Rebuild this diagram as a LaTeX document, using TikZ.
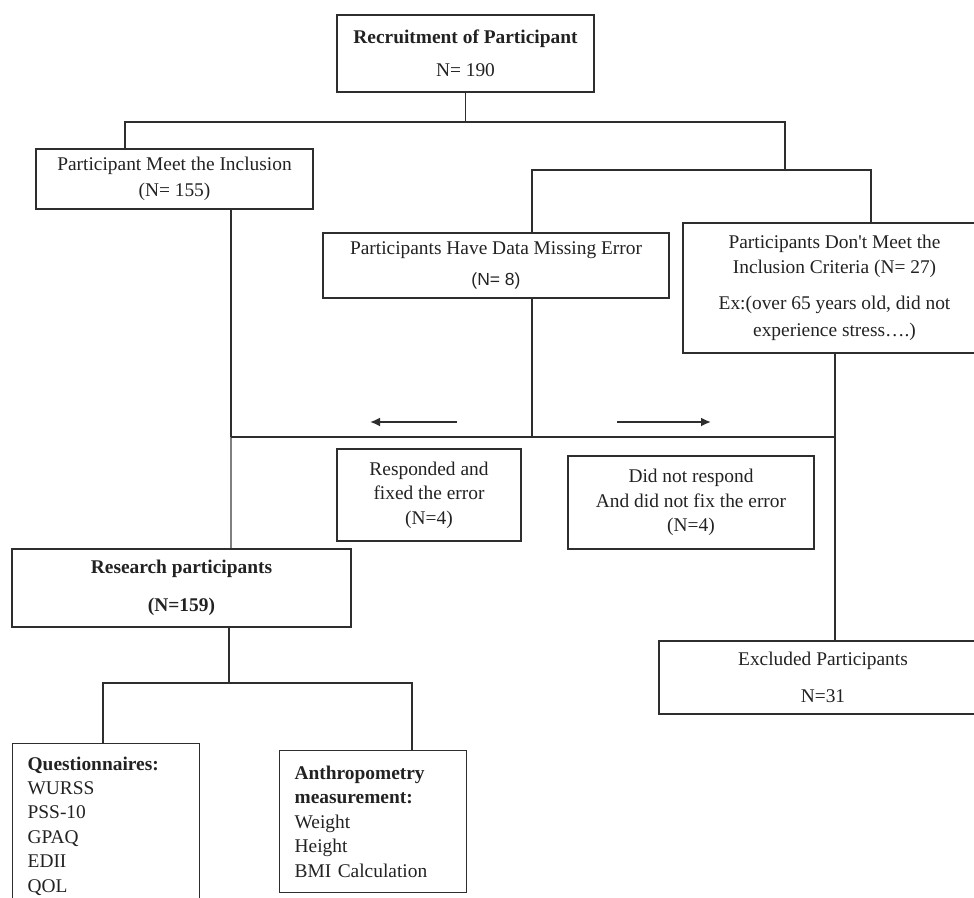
\documentclass[tikz,border=0pt]{standalone}
\usepackage{fontspec}
\setmainfont{Liberation Serif}
\newfontfamily\arialf{Liberation Sans}
\usetikzlibrary{arrows.meta}
\definecolor{linec}{HTML}{2E2E2E}
\definecolor{txtc}{HTML}{222222}
\begin{document}
\begin{tikzpicture}[x=1pt,y=-1pt,
  every node/.style={font=\fontsize{19.4pt}{24.4pt}\selectfont, text=txtc},
  box/.style={draw=linec, line width=1.3pt, align=center, inner sep=0pt},
  conn/.style={draw=linec, line width=1.3pt},
  arr/.style={draw=linec, line width=1.8pt, -{Latex[length=10pt,width=9pt]}}]
\useasboundingbox (0,0) rectangle (974,897);
% boxes
\node[box, minimum width=257pt, minimum height=77pt] (top) at (465.5,53.5) {\textbf{Recruitment of Participant}\\[8.6pt]N= 190};
\node[box, minimum width=277pt, minimum height=60pt] (meet) at (174.5,179) {Participant Meet the Inclusion\\[1.6pt](N= 155)};
\node[box, minimum width=346pt, minimum height=65pt] (miss) at (496,265.5) {Participants Have Data Missing Error\\[6pt]{\arialf\fontsize{17.5pt}{20pt}\selectfont (N= 8)}};
\node[box, minimum width=303pt, minimum height=130pt] (dont) at (834.5,288) {Participants Don\textquotesingle t Meet the\\Inclusion Criteria (N= 27)\\[12pt]Ex:(over 65 years old, did not\\[2.6pt]experience stress….)};
\node[box, minimum width=184pt, minimum height=92pt] (resp) at (429,495) {Responded and\\fixed the error\\(N=4)};
\node[box, minimum width=246pt, minimum height=93pt] (didnot) at (691,502.5) {Did not respond\\And did not fix the error\\(N=4)};
\node[box, minimum width=339pt, minimum height=78pt] (research) at (181.5,588) {\textbf{Research participants}\\[13.6pt]\textbf{(N=159)}};
\node[box, minimum width=328pt, minimum height=73pt] (excl) at (823,677.5) {Excluded Participants\\[12.6pt]N=31};
\node[box, anchor=north west, text width=157pt, inner xsep=15pt, inner ysep=13pt, align=left] (quest) at (12,743) {\textbf{Questionnaires:}\\WURSS\\PSS-10\\GPAQ\\EDII\\QOL};
\node[box, anchor=north west, text width=157pt, inner xsep=15pt, minimum height=142pt, align=left] (anthro) at (279,750) {\textbf{Anthropometry}\\\textbf{measurement:}\\Weight\\Height\\BMI Calculation};
% junction coordinates
\coordinate (j1) at (465.5,122);
\coordinate (jL) at (125,122);
\coordinate (jR) at (785,122);
\coordinate (jR2) at (785,170);
\coordinate (kL) at (532,170);
\coordinate (kR) at (871,170);
\coordinate (mL) at (231,437);
\coordinate (mM) at (532,437);
\coordinate (mR) at (835,437);
\coordinate (r1) at (229,683);
\coordinate (qL) at (103,683);
\coordinate (qR) at (412,683);
\coordinate (a1s) at (457,422);
\coordinate (a1e) at (370,422);
\coordinate (a2s) at (617,422);
\coordinate (a2e) at (711,422);
% connectors
\draw[conn] (top.south) -- (j1);
\draw[conn] (meet.north -| jL) -- (jL) -- (jR) -- (jR2);
\draw[conn] (miss.north -| kL) -- (kL) -- (kR) -- (dont.north -| kR);
\draw[conn] (meet.south -| mL) -- (mL);
\draw[conn, draw=black!50] (mL) -- (research.north -| mL);
\draw[conn] (miss.south -| mM) -- (mM);
\draw[conn] (mL) -- (mR);
\draw[conn] (dont.south -| mR) -- (excl.north -| mR);
\draw[arr] (a1s) -- (a1e);
\draw[arr] (a2s) -- (a2e);
\draw[conn] (research.south -| r1) -- (r1);
\draw[conn] (quest.north -| qL) -- (qL) -- (qR) -- (anthro.north -| qR);
\end{tikzpicture}
\end{document}
